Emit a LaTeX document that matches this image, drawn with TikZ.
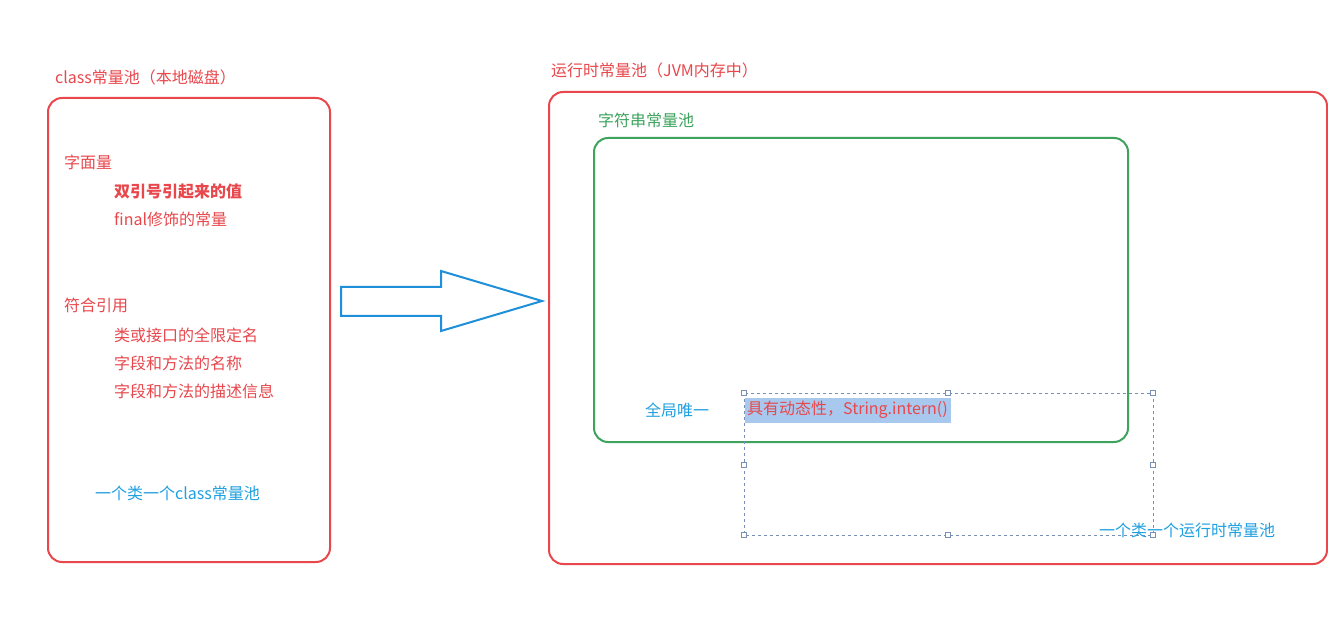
\documentclass[tikz,border=0pt]{standalone}
\usepackage{fontspec}
\setmainfont{Noto Sans CJK SC}
\usepackage{tikz}
\usetikzlibrary{positioning}

\definecolor{poolred}{HTML}{E8474C}
\definecolor{poolgreen}{HTML}{3DA35D}
\definecolor{noteblue}{HTML}{1FA0E0}
\definecolor{arrowblue}{HTML}{1E8FD8}
\definecolor{selblue}{HTML}{A9C8EE}
\definecolor{selgray}{HTML}{7A8FB8}
\newcommand{\txtsize}{\fontsize{16}{18}\selectfont}

\begin{document}
\begin{tikzpicture}[x=1pt, y=-1pt,
    pool/.style = {draw, rounded corners = 14pt, line width = 2pt, anchor = north west, inner sep = 0pt},
    lbl/.style = {anchor = west, inner sep = 0pt, font = \txtsize},
    handle/.style = {draw = selgray, fill = white, line width = 0.6pt}]
  \useasboundingbox[fill = white] (0,0) rectangle (1328,617);
  % pools
  \node[pool, draw = poolred, minimum width = 282pt, minimum height = 464pt] (classpool) at (47,97) {};
  \node[pool, draw = poolred, minimum width = 778pt, minimum height = 472pt] (runpool) at (548,91) {};
  \node[pool, draw = poolgreen, minimum width = 534pt, minimum height = 304pt] (strpool) at (593,137) {};
  \node[lbl, text = poolred] (classlbl) at (55,77) {class常量池（本地磁盘）};
  \node[lbl, text = poolred] (runlbl) at (551,70) {运行时常量池（JVM内存中）};
  \node[lbl, text = poolgreen] (strlbl) at (598,120) {字符串常量池};
  % class pool contents
  \node[lbl, text = poolred] (literal) at (64,162) {字面量};
  \node[lbl, text = poolred, font = \txtsize\bfseries] (quoted) at (114,192) {双引号引起来的值};
  \node[lbl, text = poolred] (final) at (114,219) {final修饰的常量};
  \node[lbl, text = poolred] (symref) at (64,305) {符合引用};
  \node[lbl, text = poolred] (qname) at (114,335) {类或接口的全限定名};
  \node[lbl, text = poolred] (fname) at (114,363) {字段和方法的名称};
  \node[lbl, text = poolred] (fdesc) at (114,391) {字段和方法的描述信息};
  \node[lbl, text = noteblue] (classnote) at (95,493) {一个类一个class常量池};
  % arrow
  \draw[arrowblue, line width = 2pt, line join = miter]
    (341,287) -- (441,287) -- (441,271) -- (542,301) -- (441,331) -- (441,316) -- (341,316) -- cycle;
  % selection
  \fill[selblue] (745,398) rectangle (951,423);
  \draw[selgray, dashed, line width = 0.6pt] (744,393) rectangle (1153,535);
  \foreach \hx/\hy in {744/393, 948/393, 1153/393, 744/465, 1153/465, 744/535, 948/535, 1153/535}
    \draw[handle] (\hx-2.5,\hy-2.5) rectangle (\hx+2.5,\hy+2.5);
  \node[lbl, text = noteblue] (unique) at (645,410) {全局唯一};
  \node[lbl, text = poolred] (intern) at (747,410) {具有动态性，String.intern()};
  \node[lbl, text = noteblue] (runnote) at (1099,530) {一个类一个运行时常量池};
\end{tikzpicture}
\end{document}
